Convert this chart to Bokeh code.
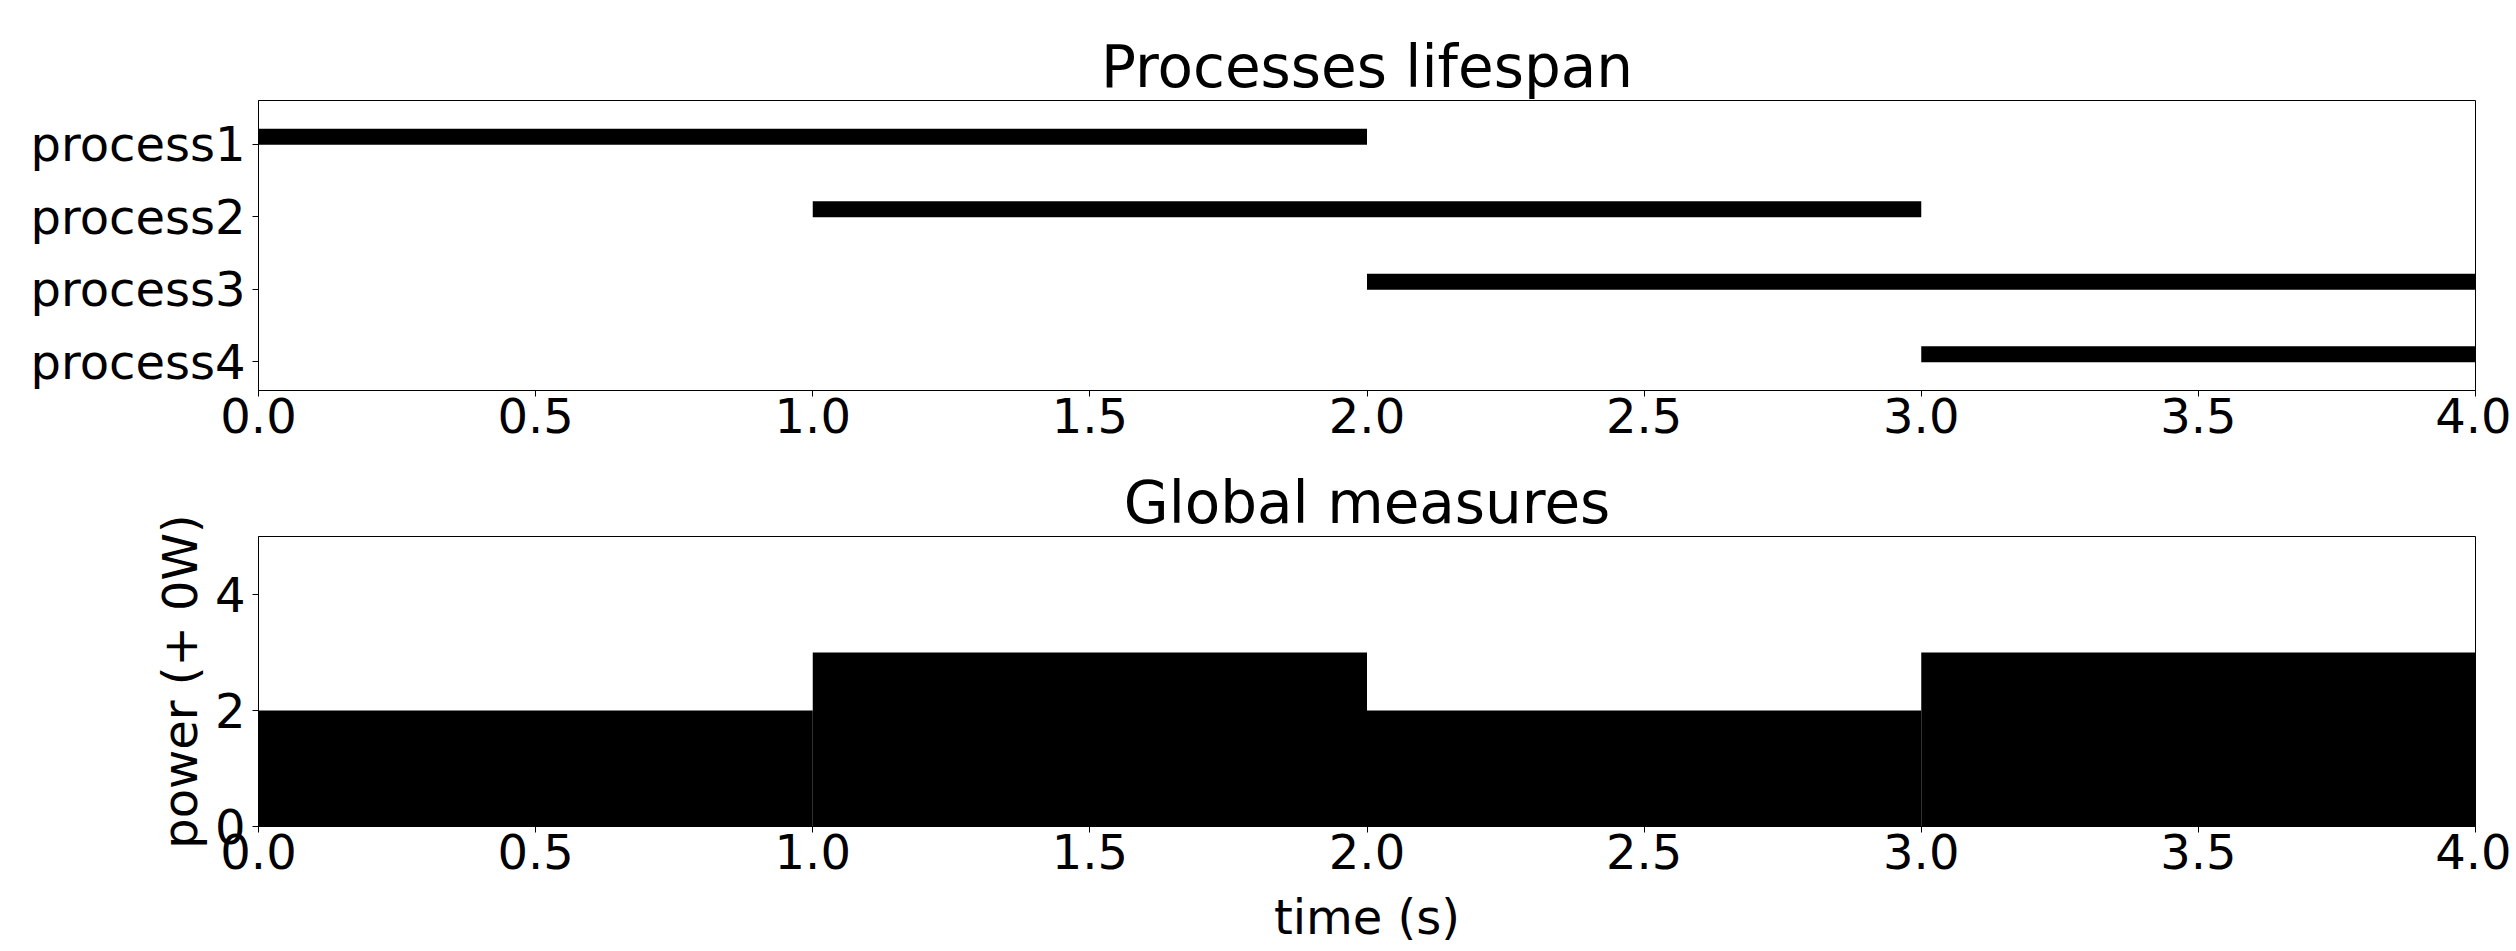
from bokeh.plotting import figure
from bokeh.layouts import column
from bokeh.models import Range1d, FixedTicker
from bokeh.embed import file_html
from bokeh.resources import INLINE

# ---- data ----
processes = ["process1", "process2", "process3", "process4"]
proc_start = [0.0, 1.0, 2.0, 3.0]
proc_end = [2.0, 3.0, 4.0, 4.0]

step_edges = [0.0, 1.0, 2.0, 3.0, 4.0]
power = [2, 3, 2, 3]

x_ticks = [0.0, 0.5, 1.0, 1.5, 2.0, 2.5, 3.0, 3.5, 4.0]
power_ticks = [0, 2, 4]

FONT = "DejaVu Sans"
TICK_FS = "48px"
TITLE_FS = "58px"


def style(p, xstandoff=1, ystandoff=7):
    p.outline_line_color = "black"
    p.outline_line_width = 1
    p.outline_line_alpha = 1
    p.xgrid.visible = False
    p.ygrid.visible = False
    p.background_fill_color = "white"
    p.border_fill_color = "white"
    for ax in (p.xaxis[0], p.yaxis[0]):
        ax.major_label_text_font = FONT
        ax.major_label_text_font_size = TICK_FS
        ax.major_label_text_color = "black"
        ax.axis_label_text_font = FONT
        ax.axis_label_text_font_size = TICK_FS
        ax.axis_label_text_font_style = "normal"
        ax.axis_label_text_color = "black"
        ax.major_tick_in = 0
        ax.major_tick_out = 6
        ax.major_tick_line_color = "black"
        ax.minor_tick_line_color = None
        ax.axis_line_color = "black"
    p.xaxis[0].major_label_standoff = xstandoff
    p.yaxis[0].major_label_standoff = ystandoff
    p.title.text_font = FONT
    p.title.text_font_size = TITLE_FS
    p.title.text_font_style = "normal"
    p.title.align = "center"
    p.title.text_color = "black"
    p.title.standoff = 0


# ---- top: process lifespans ----
ypos = list(range(1, len(processes) + 1))
bar_y = [y - 0.1 for y in ypos]

p1 = figure(frame_width=2217, frame_height=290,
            min_border_left=258, min_border_right=36,
            min_border_top=100, min_border_bottom=66,
            x_range=Range1d(0, 4), y_range=Range1d(4.4, 0.4),
            title="Processes lifespan",
            output_backend="svg", toolbar_location=None)
p1.hbar(y=bar_y, left=proc_start, right=proc_end, height=0.22,
        fill_color="black", line_color=None)
p1.xaxis.ticker = FixedTicker(ticks=x_ticks)
p1.xaxis.major_label_overrides = {t: f"{t:.1f}" for t in x_ticks}
p1.yaxis.ticker = FixedTicker(ticks=ypos)
p1.yaxis.major_label_overrides = {y: n for y, n in zip(ypos, processes)}
style(p1)

# ---- bottom: global measures ----
p2 = figure(frame_width=2217, frame_height=290,
            min_border_left=258, min_border_right=36,
            min_border_top=80, min_border_bottom=122,
            x_range=Range1d(0, 4), y_range=Range1d(0, 5),
            title="Global measures",
            output_backend="svg", toolbar_location=None)
p2.quad(left=step_edges[:-1], right=step_edges[1:], bottom=0, top=power,
        fill_color="black", line_color=None)
p2.xaxis.ticker = FixedTicker(ticks=x_ticks)
p2.xaxis.major_label_overrides = {t: f"{t:.1f}" for t in x_ticks}
p2.yaxis.ticker = FixedTicker(ticks=power_ticks)
p2.xaxis.axis_label = "time (s)"
p2.yaxis.axis_label = "power (+ 0W)"
style(p2)
p2.xaxis[0].axis_label_standoff = 17
p2.yaxis[0].axis_label_standoff = 4

layout = column(p1, p2, spacing=0)

with open("out.html", "w") as f:
    f.write(file_html(layout, INLINE))
